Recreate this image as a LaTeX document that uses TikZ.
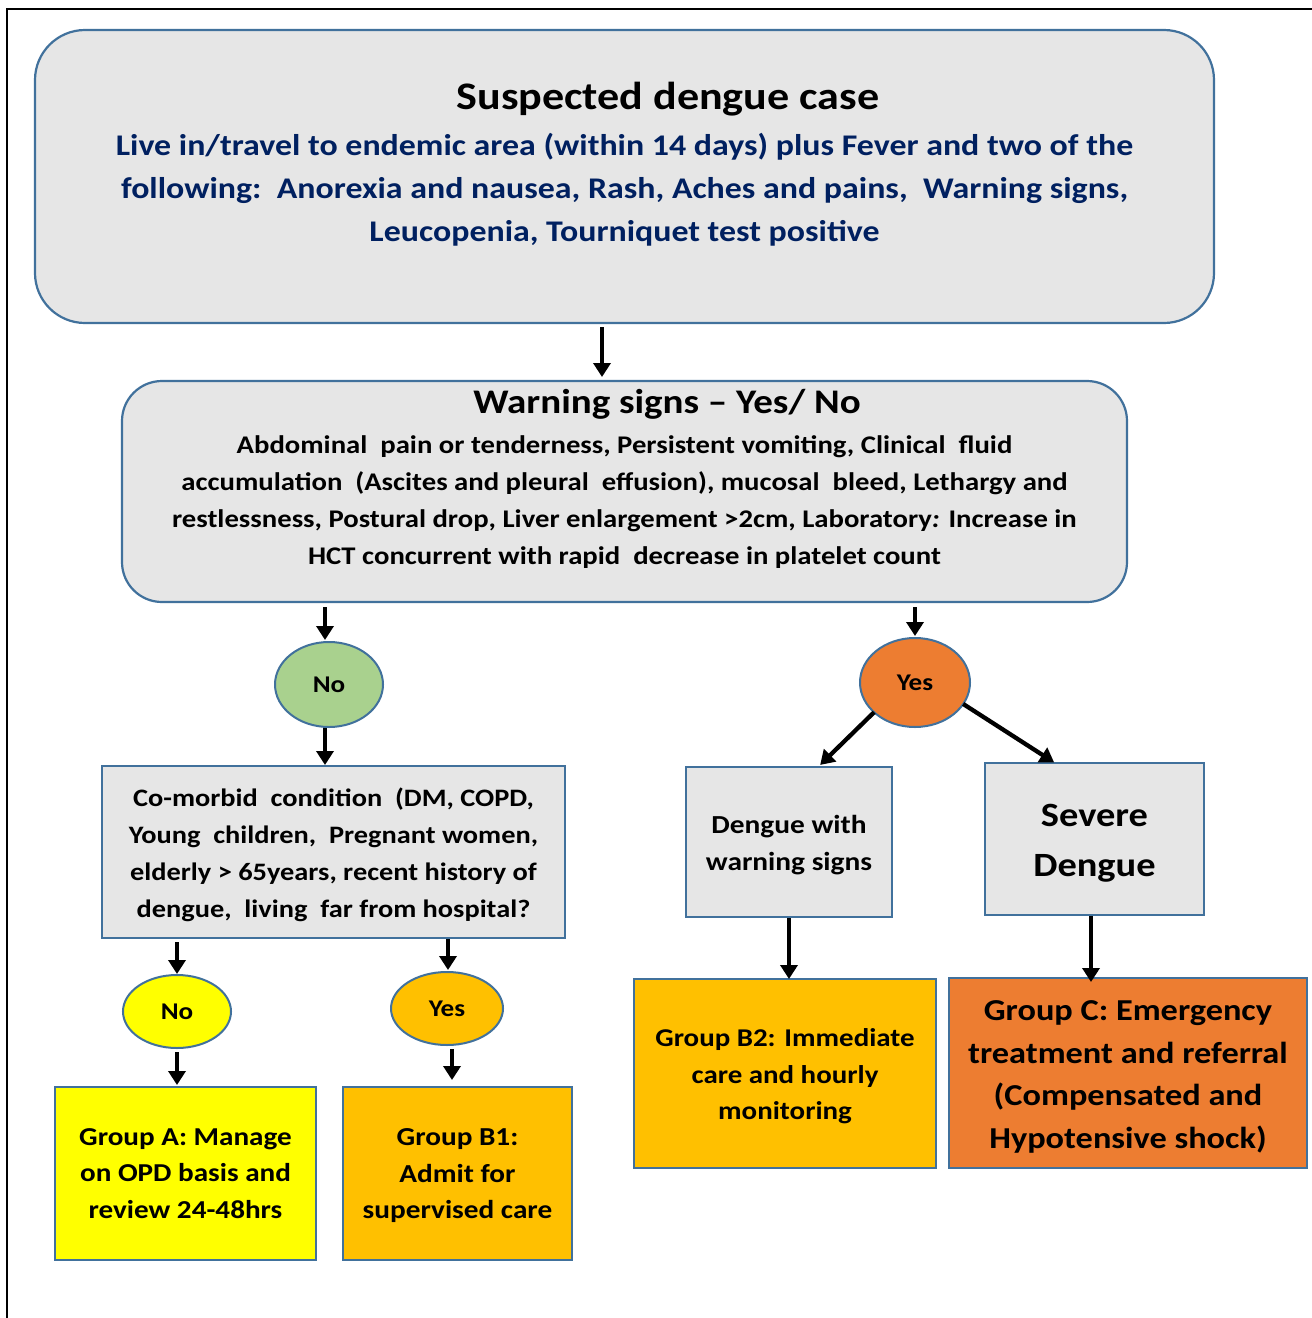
\documentclass[tikz,border=0pt]{standalone}
\usepackage{fontspec}
\setmainfont{Carlito}[FakeStretch=1.13]
\usetikzlibrary{arrows.meta,calc,shapes.geometric}
\definecolor{boxgrey}{HTML}{E6E6E6}
\definecolor{edgeblue}{HTML}{41719C}
\definecolor{navy}{HTML}{002060}
\definecolor{okgreen}{HTML}{A9D18E}
\definecolor{hotorange}{HTML}{ED7D31}
\definecolor{gold}{HTML}{FFC000}
\definecolor{brightyellow}{HTML}{FFFF00}
\begin{document}
\begin{tikzpicture}[x=1pt,y=-1pt,
  every node/.style={font=\bfseries, inner sep=0pt, outer sep=0pt},
  roundbox/.style={draw=edgeblue, line width=2.2pt, fill=boxgrey, rounded corners=#1},
  sqbox/.style={draw=edgeblue, line width=2.2pt, rectangle},
  oval/.style={draw=edgeblue, line width=2pt, ellipse, font=\bfseries\fontsize{24}{28}\selectfont},
  arr/.style={line width=4.3pt, -{Triangle[width=17pt,length=14pt]}},
  txt/.style={align=center, font=\bfseries\fontsize{#1}{37}\selectfont},
  grptxt/.style={align=center, font=\bfseries\fontsize{#1}{36.5}\selectfont}
]
\useasboundingbox (0,0) rectangle (1312,1318);
\fill[white] (0,0) rectangle (1312,1318);
% frame
\draw[black, line width=2pt] (7,1318) -- (7,9) -- (1312,9);

% top box
\node[roundbox=50pt, minimum width=1179pt, minimum height=293pt] (top) at (624.5,176.5) {};
\node[font=\bfseries\fontsize{39}{44}\selectfont] (toptitle) at (668,99) {Suspected dengue case};
\node[align=center, text=navy, font=\bfseries\fontsize{30}{43}\selectfont] (topbody) at (624.5,190)
 {Live in/travel to endemic area (within 14 days) plus Fever and two of the\\
  following:\ \ Anorexia and nausea, Rash, Aches and pains,\ \ Warning signs,\\
  Leucopenia, Tourniquet test positive};

% warning box
\node[roundbox=40pt, minimum width=1005pt, minimum height=221pt] (warn) at (624.5,491.5) {};
\node[font=\bfseries\fontsize{34.5}{40}\selectfont] (warntitle) at (667,404) {Warning signs -- Yes/ No};
\node[txt=25.4] (warnbody) at (624.5,502)
 {Abdominal\ \ pain or tenderness, Persistent vomiting, Clinical\ \ fluid\\
  accumulation\ \ (Ascites and pleural\ \ effusion), mucosal\ \ bleed, Lethargy and\\
  restlessness, Postural drop, Liver enlargement >2cm, Laboratory\textit{:} Increase in\\
  HCT concurrent with rapid\ \ decrease in platelet count};

% decision ovals
\node[oval, fill=okgreen, minimum width=108pt, minimum height=85pt] (noA) at (329,684.5) {No};
\node[oval, fill=hotorange, minimum width=110pt, minimum height=89pt] (yesA) at (915,682.5) {Yes};

% co-morbid
\node[sqbox, fill=boxgrey, minimum width=463pt, minimum height=172pt] (comorb) at (333.5,852) {};
\node[txt=25.1] (comorbtxt) at ($(comorb)+(0,3)$)
 {Co-morbid\ \ condition\ \ (DM, COPD,\\
  Young\ \ children,\ \ Pregnant women,\\
  elderly > 65years, recent history of\\
  dengue,\ \ living\ \ far from hospital?};

\node[oval, fill=brightyellow, minimum width=108pt, minimum height=73pt] (noB) at (177,1011.5) {No};
\node[oval, fill=gold, minimum width=112pt, minimum height=73pt] (yesB) at (447,1008.5) {Yes};

\node[sqbox, fill=brightyellow, minimum width=261pt, minimum height=173pt] (grpA) at (185.5,1173.5) {};
\node[grptxt=25.8] (grpAtxt) at (grpA) {Group A: Manage\\ on OPD basis and\\ review 24-48hrs};
\node[sqbox, fill=gold, minimum width=229pt, minimum height=173pt] (grpB1) at (457.5,1173.5) {};
\node[grptxt=25.9] (grpB1txt) at ($(grpB1)+(0,2.5)$) {Group B1:\\ Admit for\\ supervised care};

% right branch
\node[sqbox, fill=boxgrey, minimum width=206pt, minimum height=150pt] (dws) at (789,842) {};
\node[txt=26] (dwstxt) at ($(dws)+(0,3)$) {Dengue with\\ warning signs};
\node[sqbox, fill=boxgrey, minimum width=219pt, minimum height=152pt] (sev) at (1094.5,839) {};
\node[align=center, font=\bfseries\fontsize{34}{50}\selectfont] (sevtxt) at ($(sev)+(0,4)$) {Severe\\ Dengue};
\node[sqbox, fill=gold, minimum width=302pt, minimum height=189pt] (grpB2) at (785,1073.5) {};
\node[grptxt=25.6] (grpB2txt) at ($(grpB2)+(0,3)$) {Group B2: Immediate\\ care and hourly\\ monitoring};
\node[sqbox, fill=hotorange, minimum width=358pt, minimum height=190pt] (grpC) at (1128,1073) {};
\node[align=center, font=\bfseries\fontsize{30.4}{42.5}\selectfont] (grpCtxt) at ($(grpC)+(0,4)$)
 {Group C: Emergency\\ treatment and referral\\ (Compensated and\\ Hypotensive shock)};

% connectors
\draw[arr, shorten <=4pt, shorten >=4pt] ([xshift=-22.5pt]top.south) -- ([xshift=-22.5pt]warn.north);
\draw[arr, shorten <=5pt, shorten >=2pt] ([xshift=-4pt]warn.south -| noA.north) -- ([xshift=-4pt]noA.north);
\draw[arr, shorten <=1pt, shorten >=1pt] ([xshift=-4pt]noA.south) -- ([xshift=-4pt]noA.south |- comorb.north);
\draw[arr, shorten <=5pt, shorten >=2pt] (warn.south -| yesA.north) -- (yesA.north);
\draw[arr, shorten <=4pt, shorten >=1pt] (noB.north |- comorb.south) -- (noB.north);
\draw[arr, shorten <=1pt, shorten >=2pt] ([xshift=1pt]yesB.north |- comorb.south) -- ([xshift=1pt]yesB.north);
\draw[arr, shorten <=4pt, shorten >=2pt] (noB.south) -- (noB.south |- grpA.north);
\draw[arr, shorten <=4pt, shorten >=7pt] ([xshift=5pt]yesB.south) -- ([xshift=5pt]yesB.south |- grpB1.north);
\draw[arr, shorten >=3pt] (yesA.216) -- ([xshift=29pt]dws.north);
\draw[arr, shorten >=1pt] (yesA.-24) -- ([xshift=-39.5pt]sev.north);
\draw[arr, shorten <=1pt] (dws.south) -- (dws.south |- grpB2.north);
\draw[arr, shorten <=1pt, shorten >=-4pt] ([xshift=-3.5pt]sev.south) -- ([xshift=-3.5pt]sev.south |- grpC.north);
\end{tikzpicture}
\end{document}
